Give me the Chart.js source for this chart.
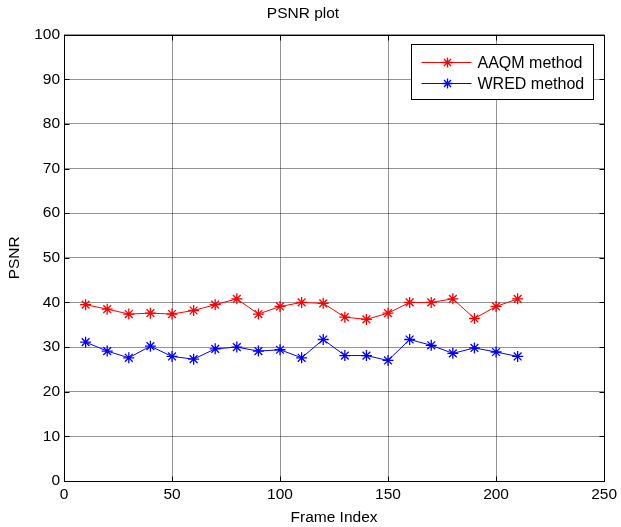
<!DOCTYPE html>
<html>
<head>
<meta charset="utf-8">
<script src="https://cdn.jsdelivr.net/npm/chart.js@4.4.1/dist/chart.umd.min.js"></script>
<style>
  html, body { margin: 0; padding: 0; background: #fff; }
</style>
</head>
<body>
<canvas id="psnrChart" width="621" height="527"></canvas>
<script>
// data
const frameIndex = [10, 20, 30, 40, 50, 60, 70, 80, 90, 100, 110, 120, 130, 140, 150, 160, 170, 180, 190, 200, 210];
const aaqmPsnr = [39.5, 38.5, 37.4, 37.6, 37.4, 38.2, 39.5, 40.8, 37.4, 39.1, 40.0, 39.8, 36.7, 36.2, 37.6, 40.0, 40.0, 40.8, 36.4, 39.1, 40.8];
const wredPsnr = [31.1, 29.1, 27.6, 30.2, 27.9, 27.3, 29.6, 30.0, 29.1, 29.4, 27.6, 31.7, 28.1, 28.1, 27.0, 31.7, 30.4, 28.6, 29.8, 28.9, 27.9];
const xTickValues = [0, 50, 100, 150, 200, 250];
const yTickValues = [0, 10, 20, 30, 40, 50, 60, 70, 80, 90, 100];

const FONT = 'Arial, "Liberation Sans", sans-serif';

function drawStar(ctx, x, y, r) {
  const d = r * Math.SQRT1_2;
  ctx.beginPath();
  ctx.moveTo(x - r, y); ctx.lineTo(x + r, y);
  ctx.moveTo(x, y - r); ctx.lineTo(x, y + r);
  ctx.moveTo(x - d, y - d); ctx.lineTo(x + d, y + d);
  ctx.moveTo(x - d, y + d); ctx.lineTo(x + d, y - d);
  ctx.stroke();
}

// box round the axes, inward ticks and the legend box
const framePlugin = {
  id: 'frame',
  afterDraw(chart) {
    const { ctx, chartArea: a, scales } = chart;
    const L = Math.round(a.left) + 0.5, R = Math.round(a.right) + 0.5;
    const T = Math.round(a.top) + 0.5, B = Math.round(a.bottom) + 0.5;
    ctx.save();
    ctx.strokeStyle = '#000';
    ctx.lineWidth = 1;
    ctx.strokeRect(L, T, R - L, B - T);

    const tl = 5;
    ctx.beginPath();
    scales.x.ticks.forEach(t => {
      const px = Math.round(scales.x.getPixelForValue(t.value)) + 0.5;
      ctx.moveTo(px, B); ctx.lineTo(px, B - tl);
      ctx.moveTo(px, T); ctx.lineTo(px, T + tl);
    });
    scales.y.ticks.forEach(t => {
      const py = Math.round(scales.y.getPixelForValue(t.value)) + 0.5;
      ctx.moveTo(L, py); ctx.lineTo(L + tl, py);
      ctx.moveTo(R, py); ctx.lineTo(R - tl, py);
    });
    ctx.stroke();

    // legend
    const bx = Math.round(a.right) - 193 + 0.5, by = Math.round(a.top) + 9 + 0.5;
    const bw = 182, bh = 55;
    ctx.fillStyle = '#fff';
    ctx.fillRect(bx, by, bw, bh);
    ctx.strokeStyle = '#000';
    ctx.strokeRect(bx, by, bw, bh);
    ctx.font = '16px ' + FONT;
    ctx.textBaseline = 'middle';
    chart.data.datasets.forEach((ds, i) => {
      const ry = Math.round(by + 17 + i * 21.5) + 0.5;
      ctx.strokeStyle = ds.borderColor;
      ctx.lineWidth = 1;
      ctx.beginPath();
      ctx.moveTo(bx + 10, ry); ctx.lineTo(bx + 60, ry);
      ctx.stroke();
      ctx.lineWidth = 1.3;
      drawStar(ctx, bx + 36, ry, 5);
      ctx.fillStyle = '#000';
      ctx.fillText(ds.label, bx + 66, ry + 1);
    });
    ctx.restore();
  }
};

const ctx = document.getElementById('psnrChart').getContext('2d');

new Chart(ctx, {
  type: 'line',
  data: {
    datasets: [
      {
        label: 'AAQM method',
        data: frameIndex.map((f, i) => ({ x: f, y: aaqmPsnr[i] })),
        borderColor: '#ff0000',
        borderWidth: 1,
        pointStyle: 'star',
        pointRadius: 5.5,
        pointBorderWidth: 1.3,
        pointBorderColor: '#ff0000',
        pointBackgroundColor: '#ff0000',
        fill: false,
        tension: 0,
      },
      {
        label: 'WRED method',
        data: frameIndex.map((f, i) => ({ x: f, y: wredPsnr[i] })),
        borderColor: '#0000ff',
        borderWidth: 1,
        pointStyle: 'star',
        pointRadius: 5.5,
        pointBorderWidth: 1.3,
        pointBorderColor: '#0000ff',
        pointBackgroundColor: '#0000ff',
        fill: false,
        tension: 0,
      },
    ],
  },
  options: {
    responsive: false,
    animation: false,
    layout: { padding: { left: 0, right: 15, top: 0, bottom: 0 } },
    plugins: {
      legend: { display: false },
      tooltip: { enabled: false },
      title: {
        display: true,
        text: 'PSNR plot',
        color: '#000',
        font: { family: FONT, size: 15.5, weight: 'normal' },
        padding: { top: 4, bottom: 12 },
      },
    },
    scales: {
      x: {
        type: 'linear',
        min: 0,
        max: 250,
        afterBuildTicks: s => { s.ticks = xTickValues.map(v => ({ value: v })); },
        afterFit: s => { s.height = 46; },
        ticks: { color: '#000', padding: 4, font: { family: FONT, size: 15.5 } },
        grid: { color: 'rgba(0,0,0,0.42)', drawTicks: false },
        border: { display: false },
        title: {
          display: true,
          text: 'Frame Index',
          color: '#000',
          font: { family: FONT, size: 15.5 },
          padding: { top: 0, bottom: 0 },
        },
      },
      y: {
        min: 0,
        max: 100,
        afterBuildTicks: s => { s.ticks = yTickValues.map(v => ({ value: v })); },
        afterFit: s => { s.width = 64; },
        ticks: { color: '#000', padding: 4, font: { family: FONT, size: 15.5 } },
        grid: { color: 'rgba(0,0,0,0.42)', drawTicks: false },
        border: { display: false },
        title: {
          display: true,
          text: 'PSNR',
          color: '#000',
          font: { family: FONT, size: 15.5 },
          padding: { top: 5, bottom: 0 },
        },
      },
    },
  },
  plugins: [framePlugin],
});
</script>
</body>
</html>
